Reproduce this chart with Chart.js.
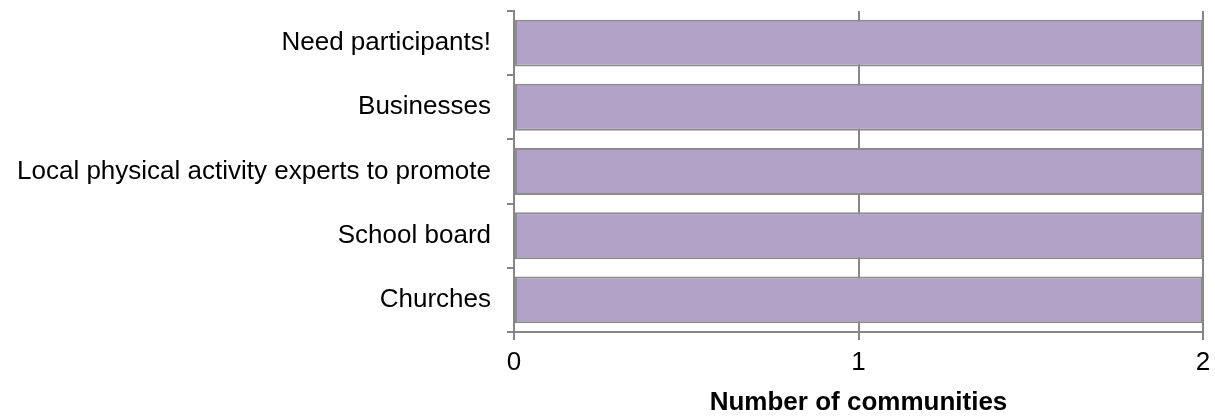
<!DOCTYPE html>
<html>
<head>
<meta charset="utf-8">
<script src="https://cdn.jsdelivr.net/npm/chart.js@4/dist/chart.umd.min.js"></script>
<style>
  html, body { margin: 0; padding: 0; background: #fff; }
  #wrap { width: 1215px; height: 416px; }
</style>
</head>
<body>
<div id="wrap"><canvas id="chart"></canvas></div>
<script>
const categories = [
  "Need participants!",
  "Businesses",
  "Local physical activity experts to promote",
  "School board",
  "Churches"
];
const communities = [2, 2, 2, 2, 2];
const xTicks = [0, 1, 2];

const FONT = "Arial, 'Liberation Sans', sans-serif";
const AXIS_GREY = "#868686";

new Chart(document.getElementById("chart"), {
  type: "bar",
  data: {
    labels: categories,
    datasets: [{
      data: communities,
      backgroundColor: "#b3a2c7",
      borderColor: "#8c8c8c",
      borderWidth: 2,
      borderSkipped: false,
      categoryPercentage: 1,
      barPercentage: 0.73
    }]
  },
  options: {
    indexAxis: "y",
    responsive: true,
    maintainAspectRatio: false,
    animation: false,
    layout: { padding: { top: 11, right: 12, left: 0, bottom: 0 } },
    plugins: { legend: { display: false }, tooltip: { enabled: false } },
    scales: {
      x: {
        min: 0,
        max: 2,
        afterBuildTicks: (axis) => { axis.ticks = xTicks.map(v => ({ value: v })); },
        afterFit: (axis) => {
          axis.height = 84;
          axis.paddingLeft = 0;
          axis.paddingRight = 0;
        },
        grid: { color: AXIS_GREY, lineWidth: 2, tickLength: 8 },
        border: { color: AXIS_GREY, width: 2 },
        ticks: { color: "#000", font: { family: FONT, size: 26, lineHeight: 1 }, padding: 10 },
        title: {
          display: true,
          text: "Number of communities",
          color: "#000",
          font: { family: FONT, size: 26, weight: "bold", lineHeight: 1 },
          padding: { top: 14, bottom: 0 }
        }
      },
      y: {
        afterFit: (axis) => {
          axis.width = 514;
          axis.paddingTop = 0;
          axis.paddingBottom = 0;
        },
        grid: { display: true, offset: true, drawOnChartArea: false, color: AXIS_GREY, lineWidth: 2, tickLength: 7 },
        border: { color: AXIS_GREY, width: 2 },
        ticks: { color: "#000", font: { family: FONT, size: 26 }, padding: 16 }
      }
    }
  }
});
</script>
</body>
</html>
